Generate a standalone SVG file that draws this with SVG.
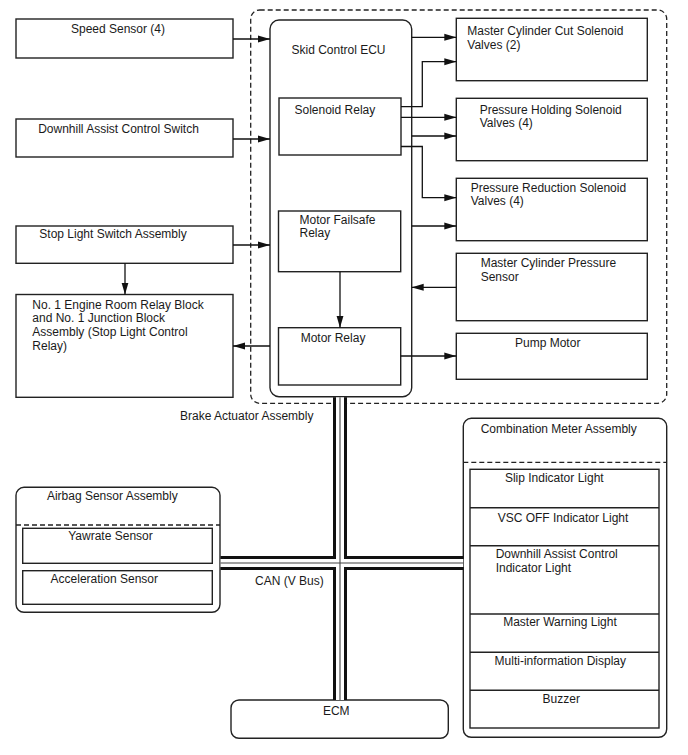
<svg xmlns="http://www.w3.org/2000/svg" width="688" height="755" viewBox="0 0 688 755">
<defs>
<marker id="arr" viewBox="0 0 12 8" refX="12" refY="4" markerWidth="12" markerHeight="8" markerUnits="userSpaceOnUse" orient="auto">
<path d="M0,0.5 L12,4 L0,7.5 z" fill="#111"/>
</marker>
</defs>
<style>
.box{fill:#fff;stroke:#222;stroke-width:1.4}
.dash{fill:none;stroke:#222;stroke-width:1.3;stroke-dasharray:5,3}
.t{font-family:"Liberation Sans",Arial,sans-serif;font-size:12px;fill:#1a1a1a}
.m{text-anchor:middle}
.c{fill:none;stroke:#111;stroke-width:1.3;marker-end:url(#arr)}
.busO{fill:none;stroke:#111;stroke-width:14}
.busW{fill:none;stroke:#fff;stroke-width:8}
.busC{fill:none;stroke:#444;stroke-width:1.1}
</style>
<rect width="688" height="755" fill="#fff"/>

<g id="brake-actuator">
<rect class="dash" x="250.7" y="10" width="416" height="393.3" rx="9"/>
<text class="t" x="180" y="420">Brake Actuator Assembly</text>
</g>

<g id="skid-ecu">
<rect class="box" x="270" y="20" width="141.7" height="376.7" rx="9"/>
<text class="t" x="291.5" y="54">Skid Control ECU</text>
</g>

<g id="solenoid-relay">
<rect class="box" x="279" y="98" width="122" height="57"/>
<text class="t" x="294.5" y="113.5">Solenoid Relay</text>
</g>

<g id="motor-failsafe-relay">
<rect class="box" x="278.5" y="211" width="122.2" height="60.7"/>
<text class="t" x="299.5" y="223.5">Motor Failsafe</text>
<text class="t" x="299.5" y="237">Relay</text>
</g>

<g id="motor-relay">
<rect class="box" x="278.5" y="327.7" width="122.2" height="57.3"/>
<text class="t" x="300.7" y="342">Motor Relay</text>
</g>

<g id="speed-sensor">
<rect class="box" x="16" y="19" width="217" height="39"/>
<text class="t m" x="118" y="33">Speed Sensor (4)</text>
</g>

<g id="downhill-switch">
<rect class="box" x="16" y="119" width="217" height="38"/>
<text class="t m" x="118.5" y="132.5">Downhill Assist Control Switch</text>
</g>

<g id="stop-light-switch">
<rect class="box" x="16" y="226" width="217" height="37.3"/>
<text class="t m" x="113" y="238">Stop Light Switch Assembly</text>
</g>

<g id="no1-relay-block">
<rect class="box" x="16" y="294.5" width="217" height="102.8"/>
<text class="t" x="32.3" y="308.5">No. 1 Engine Room Relay Block</text>
<text class="t" x="32.3" y="322.4">and No. 1 Junction Block</text>
<text class="t" x="32.3" y="336.3">Assembly (Stop Light Control</text>
<text class="t" x="32.3" y="350.2">Relay)</text>
</g>

<g id="mc-cut-valves">
<rect class="box" x="456.3" y="18.3" width="191" height="62.4"/>
<text class="t" x="467.3" y="35">Master Cylinder Cut Solenoid</text>
<text class="t" x="467.3" y="48.5">Valves (2)</text>
</g>

<g id="pressure-holding-valves">
<rect class="box" x="456.3" y="98.3" width="191" height="62.4"/>
<text class="t" x="479.7" y="113.5">Pressure Holding Solenoid</text>
<text class="t" x="479.7" y="127">Valves (4)</text>
</g>

<g id="pressure-reduction-valves">
<rect class="box" x="456.3" y="178.3" width="191" height="62.4"/>
<text class="t" x="470.7" y="191.8">Pressure Reduction Solenoid</text>
<text class="t" x="470.7" y="205.3">Valves (4)</text>
</g>

<g id="mc-pressure-sensor">
<rect class="box" x="456.3" y="253.3" width="191" height="67.4"/>
<text class="t" x="480.7" y="267">Master Cylinder Pressure</text>
<text class="t" x="480.7" y="281">Sensor</text>
</g>

<g id="pump-motor">
<rect class="box" x="456.3" y="333.3" width="191" height="46"/>
<text class="t m" x="547.7" y="347">Pump Motor</text>
</g>

<g id="airbag-sensor-assembly">
<rect class="box" x="16" y="487.3" width="204" height="125" rx="8"/>
<text class="t m" x="112.3" y="500">Airbag Sensor Assembly</text>
<line class="dash" x1="16" y1="525" x2="220" y2="525"/>
<rect class="box" x="22.7" y="528.3" width="189.6" height="35"/>
<text class="t m" x="110.5" y="540">Yawrate Sensor</text>
<rect class="box" x="22.7" y="570.7" width="189.6" height="33.6"/>
<text class="t m" x="104.3" y="583.3">Acceleration Sensor</text>
</g>

<g id="combination-meter-assembly">
<rect class="box" x="463.3" y="418.3" width="203.4" height="319" rx="8"/>
<text class="t m" x="558.7" y="433.3">Combination Meter Assembly</text>
<line class="dash" x1="463.3" y1="462.3" x2="666.7" y2="462.3"/>
<rect class="box" x="470" y="469.3" width="189" height="258.7"/>
<line class="box" x1="470" y1="507.7" x2="659" y2="507.7"/>
<line class="box" x1="470" y1="545.7" x2="659" y2="545.7"/>
<line class="box" x1="470" y1="614" x2="659" y2="614"/>
<line class="box" x1="470" y1="652.3" x2="659" y2="652.3"/>
<line class="box" x1="470" y1="690.3" x2="659" y2="690.3"/>
<text class="t m" x="554.3" y="482.3">Slip Indicator Light</text>
<text class="t m" x="563" y="522.3">VSC OFF Indicator Light</text>
<text class="t" x="495.7" y="558.3">Downhill Assist Control</text>
<text class="t" x="495.7" y="572.3">Indicator Light</text>
<text class="t m" x="560" y="625.7">Master Warning Light</text>
<text class="t m" x="560.3" y="665">Multi-information Display</text>
<text class="t m" x="561.3" y="703.3">Buzzer</text>
</g>

<g id="ecm">
<rect class="box" x="231" y="700" width="217.3" height="38.3" rx="8"/>
<text class="t m" x="336.3" y="715">ECM</text>
</g>

<g id="connectors">
<g id="can-bus">
<path class="busO" d="M340,397.2 V700 M220.5,563 H463.3"/>
<path class="busW" d="M340,397.2 V700 M220.5,563 H463.3"/>
<path class="busC" d="M340,397.2 V700 M220.5,563 H463.3"/>
<text class="t" x="255" y="585">CAN (V Bus)</text>
</g>
<path class="c" d="M233,39 H270"/>
<path class="c" d="M233,139 H270"/>
<path class="c" d="M233,245 H270"/>
<path class="c" d="M125,263.3 V294.5"/>
<path class="c" d="M270,346 H233"/>
<path class="c" d="M411.7,37.3 H456.3"/>
<path class="c" d="M401,106.7 H422.3 V61.7 H456.3"/>
<path class="c" d="M401,117.3 H456.3"/>
<path class="c" d="M411.7,136 H456.3"/>
<path class="c" d="M401,146.5 H422.3 V197.7 H456.3"/>
<path class="c" d="M411.7,226 H456.3"/>
<path class="c" d="M456.3,287.3 H411.7"/>
<path class="c" d="M400.7,356 H456.3"/>
<path class="c" d="M340,271.7 V327.7"/>
</g>
</svg>
